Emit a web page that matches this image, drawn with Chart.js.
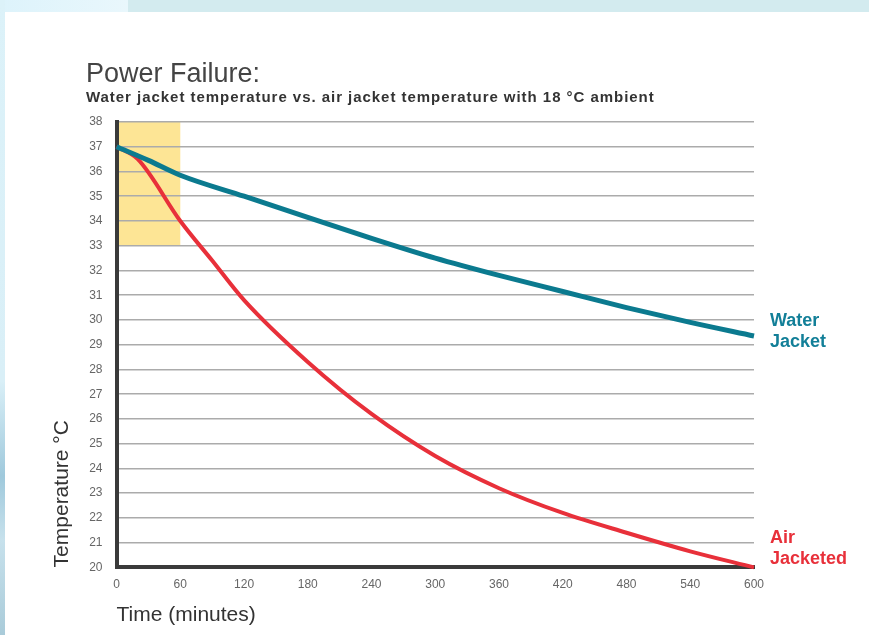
<!DOCTYPE html>
<html>
<head>
<meta charset="utf-8">
<script src="https://cdn.jsdelivr.net/npm/chart.js@4/dist/chart.umd.min.js"></script>
<style>
  html, body { margin: 0; padding: 0; background: #fff; }
  .page { position: relative; width: 869px; height: 635px; overflow: hidden; background: #fff; }
  .strip-top-a { position: absolute; left: 0; top: 0; width: 128px; height: 12px; background: linear-gradient(90deg, #ddf3fb, #e9f7fc); }
  .strip-top-b { position: absolute; left: 128px; top: 0; width: 741px; height: 12px; background: #d3ebef; }
  .strip-left { position: absolute; left: 0; top: 0; width: 5px; height: 635px;
    background: linear-gradient(180deg, #dcf2f9 0%, #d9eff7 60%, #9fc9dc 75%, #c7e1ec 85%, #a9cbd9 100%); }
  canvas { position: absolute; left: 0; top: 0; }
</style>
</head>
<body>
<div class="page">
  <div class="strip-top-a"></div>
  <div class="strip-top-b"></div>
  <div class="strip-left"></div>
  <canvas id="chart" width="869" height="635"></canvas>
</div>
<script>
// chart data
const waterMinutes = [0, 30, 60, 120, 180, 240, 300, 360, 420, 480, 540, 600];
const waterTemps   = [37.0, 36.45, 35.85, 35.0, 34.15, 33.3, 32.5, 31.8, 31.15, 30.5, 29.9, 29.35];
const airMinutes   = [0, 20, 60, 90, 120, 180, 240, 300, 360, 420, 480, 540, 600];
const airTemps     = [37.0, 36.5, 34.0, 32.4, 30.8, 28.3, 26.2, 24.5, 23.2, 22.2, 21.4, 20.65, 20.0];
const xRange = [0, 600];
const xStep = 60;
const yRange = [20, 38];
// highlighted window: first hour, 33..38 °C
const highlightMinutes = [0, 60];
const highlightTemps = [33, 38];

const titleText = "Power Failure:";
const subtitleText = "Water jacket temperature vs. air jacket temperature with 18 °C ambient";
const seriesNames = [["Water", "Jacket"], ["Air", "Jacketed"]];

const FONT = '"Liberation Sans", Arial, Helvetica, sans-serif';
const WATER = "#0b7a8f";
const AIR = "#e8303a";

const toPoints = (xs, ys) => xs.map((x, i) => ({ x: x, y: ys[i] }));

const decorations = {
  id: "decorations",
  beforeDraw(chart) {
    const { ctx, scales } = chart;
    const x0 = scales.x.getPixelForValue(highlightMinutes[0]);
    const x1 = scales.x.getPixelForValue(highlightMinutes[1]);
    const y0 = scales.y.getPixelForValue(highlightTemps[1]);
    const y1 = scales.y.getPixelForValue(highlightTemps[0]);
    ctx.save();
    ctx.fillStyle = "#fde595";
    ctx.fillRect(x0, y0, x1 - x0, y1 - y0);
    ctx.restore();
  },
  afterDraw(chart) {
    const { ctx, scales, chartArea } = chart;
    ctx.save();
    ctx.textBaseline = "alphabetic";
    ctx.textAlign = "left";
    ctx.fillStyle = "#444";
    ctx.font = "27px " + FONT;
    ctx.fillText(titleText, 86, 82);
    // subtitle: stretch a little so it spans the same width as the original
    ctx.fillStyle = "#333";
    ctx.font = "bold 15px " + FONT;
    const w = ctx.measureText(subtitleText).width;
    const spacing = Math.max(0, (568 - w) / (subtitleText.length - 1));
    ctx.letterSpacing = spacing.toFixed(2) + "px";
    ctx.fillText(subtitleText, 86, 102);
    ctx.letterSpacing = "0px";

    // end labels next to each line
    const lx = chartArea.right + 16;
    ctx.font = "bold 18px " + FONT;
    ctx.textBaseline = "middle";
    const wy = scales.y.getPixelForValue(waterTemps[waterTemps.length - 1]);
    ctx.fillStyle = "#127f98";
    ctx.fillText(seriesNames[0][0], lx, wy - 15);
    ctx.fillText(seriesNames[0][1], lx, wy + 6);
    const ay = scales.y.getPixelForValue(airTemps[airTemps.length - 1]);
    ctx.fillStyle = AIR;
    ctx.fillText(seriesNames[1][0], lx, ay - 29);
    ctx.fillText(seriesNames[1][1], lx, ay - 8);
    ctx.restore();
  }
};

new Chart(document.getElementById("chart"), {
  type: "line",
  data: {
    datasets: [
      {
        label: "Water Jacket",
        data: toPoints(waterMinutes, waterTemps),
        borderColor: WATER,
        borderWidth: 5,
        pointRadius: 0,
        cubicInterpolationMode: "monotone",
        fill: false,
        clip: false
      },
      {
        label: "Air Jacketed",
        data: toPoints(airMinutes, airTemps),
        borderColor: AIR,
        borderWidth: 4,
        pointRadius: 0,
        cubicInterpolationMode: "monotone",
        fill: false,
        clip: false
      }
    ]
  },
  options: {
    responsive: false,
    animation: false,
    layout: { padding: { top: 122, right: 115, left: 50, bottom: 7 } },
    plugins: {
      legend: { display: false },
      tooltip: { enabled: false },
      title: { display: false }
    },
    scales: {
      x: {
        type: "linear",
        min: xRange[0],
        max: xRange[1],
        ticks: { stepSize: xStep, color: "#666", font: { family: FONT, size: 12 }, padding: 2 },
        grid: { display: false },
        border: { display: true, color: "#3a3a3a", width: 4 },
        title: {
          display: true,
          text: "Time (minutes)",
          align: "start",
          color: "#333",
          font: { family: FONT, size: 21 },
          padding: { top: 9, bottom: 0 }
        }
      },
      y: {
        min: yRange[0],
        max: yRange[1],
        ticks: { stepSize: 1, color: "#666", font: { family: FONT, size: 12 }, padding: 14 },
        grid: { color: "#ababab", lineWidth: 1.5, drawTicks: false },
        border: { display: true, color: "#3a3a3a", width: 4 },
        title: {
          display: true,
          text: "Temperature °C",
          align: "start",
          color: "#333",
          font: { family: FONT, size: 21 },
          padding: { top: 0, bottom: 0 }
        }
      }
    }
  },
  plugins: [decorations]
});
</script>
</body>
</html>
